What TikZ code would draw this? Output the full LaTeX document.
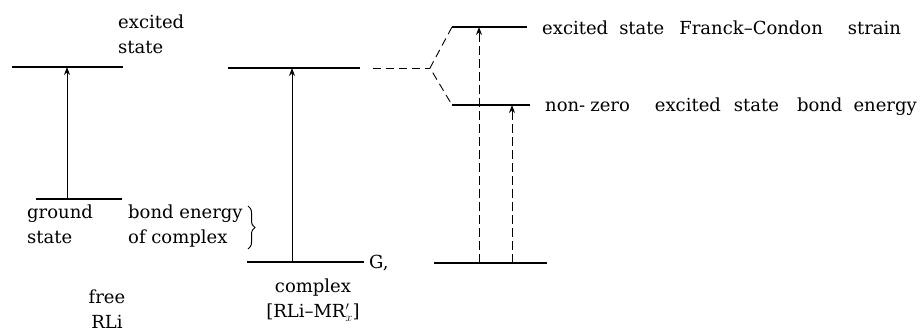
\documentclass[tikz,border=0pt]{standalone}
\usepackage{fontspec}
\setmainfont{DejaVu Serif}
\usetikzlibrary{arrows.meta,decorations.pathreplacing}
\begin{document}
\begin{tikzpicture}[x=1pt,y=-1pt,
  level/.style={line width=1.2pt},
  trans/.style={line width=0.9pt,-{Stealth[length=8pt,width=6pt]}},
  dtrans/.style={trans,dash pattern=on 9pt off 4pt},
  corr/.style={line width=0.9pt,dash pattern=on 8pt off 5pt},
  lbl/.style={inner sep=0pt,font=\fontsize{18}{25}\selectfont}]
\useasboundingbox (0,0) rectangle (921,331);
% free RLi
\coordinate (fe1) at (12,67);  \coordinate (fe2) at (123,67);
\coordinate (fg1) at (36,199); \coordinate (fg2) at (122,199);
\coordinate (fa0) at (67,199); \coordinate (fa1) at (67,67);
\draw[level] (fe1) -- (fe2);
\draw[level] (fg1) -- (fg2);
\draw[trans] (fa0) -- (fa1);
% complex
\coordinate (ce1) at (228,68); \coordinate (ce2) at (360,68);
\coordinate (cg1) at (247,262); \coordinate (cg2) at (364,262);
\coordinate (ca0) at (292,262); \coordinate (ca1) at (292,68);
\draw[level] (ce1) -- (ce2);
\draw[level] (cg1) -- (cg2);
\draw[trans] (ca0) -- (ca1);
% correlation
\coordinate (d0) at (373,68); \coordinate (v) at (430,68);
\coordinate (u1) at (452,27); \coordinate (u2) at (527,27);
\coordinate (l1) at (452,105); \coordinate (l2) at (530,105);
\coordinate (b1) at (434,263); \coordinate (b2) at (547,263);
\draw[corr] (d0) -- (v);
\draw[corr] (u1) -- (v) -- (l1);
\draw[level] (u1) -- (u2);
\draw[level] (l1) -- (l2);
\draw[level] (b1) -- (b2);
\coordinate (r1a) at (479,263); \coordinate (r1b) at (479,27);
\coordinate (r2a) at (512,263); \coordinate (r2b) at (512,105);
\draw[dtrans] (r1a) -- (r1b);
\draw[dtrans] (r2a) -- (r2b);
% brace
\coordinate (br1) at (248,206); \coordinate (br2) at (248,249);
\draw[line width=1pt,decorate,decoration={brace,amplitude=7pt}] (br1) -- (br2);
% labels
\node[lbl,anchor=west,align=left] (tex) at (118,34) {excited\\state};
\node[lbl,anchor=west,align=left] (tgs) at (27,224) {ground\\state};
\node[lbl,anchor=west,align=left] (tbe) at (128,226) {bond energy\\of complex};
\node[lbl,align=center] (tfree) at (107,309) {free\\RLi};
\node[lbl,align=center] (tcx) at (313,300) {complex\\{[}RLi–MR$'_{x}$]};
\node[lbl,anchor=base west] (tg) at (369,269) {G,};
\node[lbl,anchor=base west] (tfc) at (542,35) {excited\hspace{11pt}state\hspace{15pt}Franck–Condon\hspace{25pt}strain};
\node[lbl,anchor=base west] (tnz) at (545,112) {non-\hspace{5pt}zero\hspace{25pt}excited\hspace{13pt}state\hspace{18pt}bond\hspace{11pt}energy};
\end{tikzpicture}
\end{document}
